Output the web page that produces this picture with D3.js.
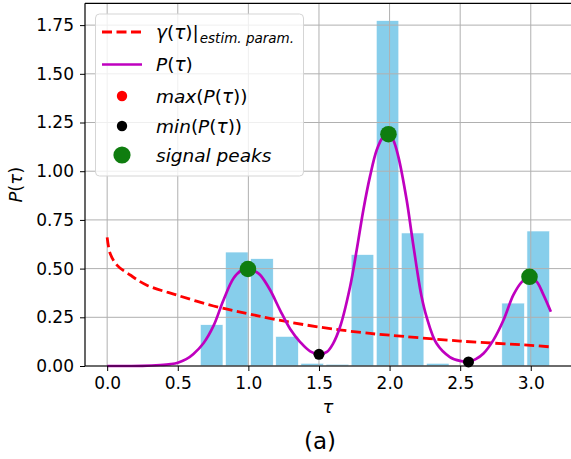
<!DOCTYPE html>
<html>
<head>
<meta charset="utf-8">
<script src="https://cdn.jsdelivr.net/npm/d3@7"></script>
<style>
  body { margin: 0; background: #fff; }
  text { font-family: "DejaVu Sans", sans-serif; }
</style>
</head>
<body>
<div id="chart"></div>
<script>
// histogram bins (tau) and density heights
const binEdges = [0.651, 0.829, 1.007, 1.185, 1.363, 1.541, 1.719, 1.897, 2.074, 2.252, 2.430, 2.608, 2.786, 2.964, 3.142];
const binHeights = [0.212, 0.585, 0.551, 0.152, 0.014, 0.009, 0.572, 1.773, 0.683, 0.014, 0, 0, 0.323, 0.693];

// P(tau) curve
const pTau = [0, 0.25, 0.375, 0.45, 0.5, 0.56, 0.611, 0.682, 0.753, 0.824, 0.895, 0.95, 1.0, 1.05, 1.084, 1.154, 1.225, 1.296, 1.367, 1.438, 1.5, 1.556, 1.6, 1.649, 1.72, 1.767, 1.814, 1.861, 1.909, 1.955, 1.992, 2.026, 2.062, 2.121, 2.156, 2.191, 2.227, 2.262, 2.333, 2.427, 2.50, 2.559, 2.610, 2.665, 2.736, 2.807, 2.877, 2.937, 2.991, 3.043, 3.09, 3.142];
const pVal = [0, 0.001, 0.005, 0.01, 0.017, 0.035, 0.062, 0.117, 0.206, 0.339, 0.45, 0.49, 0.498, 0.485, 0.467, 0.39, 0.286, 0.19, 0.123, 0.075, 0.06, 0.072, 0.115, 0.2, 0.406, 0.595, 0.8, 0.972, 1.109, 1.177, 1.19, 1.16, 1.075, 0.852, 0.68, 0.51, 0.355, 0.252, 0.115, 0.046, 0.026, 0.021, 0.035, 0.064, 0.134, 0.236, 0.365, 0.432, 0.458, 0.432, 0.365, 0.279];

// gamma(tau) with estimated parameters
const gTau = [0.0, 0.021, 0.069, 0.163, 0.281, 0.494, 0.753, 0.989, 1.2, 1.5, 1.862, 2.0, 2.5, 3.0, 3.142];
const gVal = [0.66, 0.578, 0.518, 0.467, 0.415, 0.364, 0.308, 0.27, 0.238, 0.20, 0.167, 0.158, 0.128, 0.106, 0.098];

const minTau = [1.5, 2.559];
const minVal = [0.06, 0.021];
const peakTau = [0.997, 1.992, 2.991];
const peakVal = [0.498, 1.19, 0.458];
const maxTau = [1.992];
const maxVal = [1.19];

const xTicks = [0, 0.5, 1.0, 1.5, 2.0, 2.5, 3.0];
const yTicks = [0, 0.25, 0.5, 0.75, 1.0, 1.25, 1.5, 1.75];

function mathText(sel, str) {
    // letters italic, brackets upright, like mathtext
    const parts = [];
    for (const ch of str) {
        const it = /[A-Za-zτγ ]/.test(ch);
        if (parts.length && parts[parts.length - 1].it === it) parts[parts.length - 1].s += ch;
        else parts.push({ s: ch, it: it });
    }
    parts.forEach(p => {
        sel.append("tspan").attr("font-style", p.it ? "italic" : "normal").text(p.s);
    });
    return sel;
}

function main() {
    const canvasWidth = 571;
    const canvasHeight = 459;

    const svg = d3.select("#chart").append("svg")
        .attr("width", canvasWidth)
        .attr("height", canvasHeight);

    const left = 85, right = 573, top = 3.3, bottom = 366;

    const x = d3.scaleLinear().domain([-0.157, 3.299]).range([left, right]);
    const y = d3.scaleLinear().domain([0, 1.862]).range([bottom, top]);

    // bars (rwidth 0.9)
    const bins = binHeights.map((h, i) => ({ x0: binEdges[i], x1: binEdges[i + 1], h: h }));
    svg.append("g").selectAll("rect")
        .data(bins.filter(d => d.h > 0))
        .join("rect")
        .attr("x", d => x(d.x0 + 0.05 * (d.x1 - d.x0)))
        .attr("width", d => x(d.x1) - x(d.x0) - 0.1 * (x(d.x1) - x(d.x0)))
        .attr("y", d => y(d.h))
        .attr("height", d => y(0) - y(d.h))
        .attr("fill", "#87ceeb")
        .attr("stroke", "#ffffff")
        .attr("stroke-width", 0.6);

    // grid
    const grid = svg.append("g").attr("stroke", "#b0b0b0").attr("stroke-width", 1);
    grid.selectAll(".gx").data(xTicks).join("line")
        .attr("x1", d => x(d)).attr("x2", d => x(d))
        .attr("y1", top).attr("y2", bottom);
    grid.selectAll(".gy").data(yTicks).join("line")
        .attr("x1", left).attr("x2", right)
        .attr("y1", d => y(d)).attr("y2", d => y(d));

    // gamma curve
    const line = d3.line().curve(d3.curveCatmullRom);
    svg.append("path")
        .attr("fill", "none")
        .attr("stroke", "#ff0000")
        .attr("stroke-width", 2.8)
        .attr("stroke-dasharray", "10,4.5")
        .attr("d", line(gTau.map((t, i) => [x(t), y(gVal[i])])));

    // P(tau)
    svg.append("path")
        .attr("fill", "none")
        .attr("stroke", "#bf00bf")
        .attr("stroke-width", 2.7)
        .attr("d", line(pTau.map((t, i) => [x(t), y(pVal[i])])));

    svg.append("g").selectAll("circle").data(maxTau).join("circle")
        .attr("cx", d => x(d)).attr("cy", (d, i) => y(maxVal[i]))
        .attr("r", 5.5).attr("fill", "#ff0000");
    svg.append("g").selectAll("circle").data(minTau).join("circle")
        .attr("cx", d => x(d)).attr("cy", (d, i) => y(minVal[i]))
        .attr("r", 5.5).attr("fill", "#000000");
    svg.append("g").selectAll("circle").data(peakTau).join("circle")
        .attr("cx", d => x(d)).attr("cy", (d, i) => y(peakVal[i]))
        .attr("r", 8.3).attr("fill", "#0f7d0f");

    // axes
    const xAxis = svg.append("g")
        .attr("transform", "translate(0," + bottom + ")")
        .call(d3.axisBottom(x).tickValues(xTicks).tickFormat(d3.format(".1f")).tickSize(5).tickPadding(6).tickSizeOuter(0));
    const yAxis = svg.append("g")
        .attr("transform", "translate(" + left + ",0)")
        .call(d3.axisLeft(y).tickValues(yTicks).tickFormat(d3.format(".2f")).tickSize(5).tickPadding(6).tickSizeOuter(0));
    [xAxis, yAxis].forEach(a => {
        a.selectAll("text").attr("font-size", "17px").attr("fill", "#000").attr("font-family", "DejaVu Sans");
        a.selectAll("line").attr("stroke", "#000");
        a.select(".domain").remove();
    });

    // spines
    svg.append("line").attr("x1", left).attr("x2", left).attr("y1", top).attr("y2", bottom).attr("stroke", "#000").attr("stroke-width", 1.2);
    svg.append("line").attr("x1", left).attr("x2", right).attr("y1", bottom).attr("y2", bottom).attr("stroke", "#000").attr("stroke-width", 1.2);
    svg.append("line").attr("x1", left).attr("x2", right).attr("y1", top).attr("y2", top).attr("stroke", "#000").attr("stroke-width", 1.2);

    // axis labels
    mathText(svg.append("text")
        .attr("x", 328).attr("y", 413)
        .attr("text-anchor", "middle").attr("font-size", "18px"), "τ");
    mathText(svg.append("text")
        .attr("transform", "translate(22," + ((top + bottom) / 2) + ") rotate(-90)")
        .attr("text-anchor", "middle").attr("font-size", "18px"), "P(τ)");
    svg.append("text")
        .attr("x", 320).attr("y", 449)
        .attr("text-anchor", "middle")
        .attr("font-family", "Liberation Serif")
        .attr("font-size", "23px")
        .text("(a)");

    // legend
    const lg = svg.append("g");
    lg.append("rect")
        .attr("x", 95.5).attr("y", 14).attr("width", 208).attr("height", 162)
        .attr("rx", 4)
        .attr("fill", "#ffffff").attr("fill-opacity", 0.8)
        .attr("stroke", "#d5d5d5");
    const rows = [32, 64.5, 96, 126, 155];
    lg.append("line").attr("x1", 102).attr("x2", 142).attr("y1", rows[0]).attr("y2", rows[0])
        .attr("stroke", "#ff0000").attr("stroke-width", 2.8).attr("stroke-dasharray", "10,4.5");
    lg.append("line").attr("x1", 102).attr("x2", 142).attr("y1", rows[1]).attr("y2", rows[1])
        .attr("stroke", "#bf00bf").attr("stroke-width", 2.7);
    lg.append("circle").attr("cx", 122).attr("cy", rows[2]).attr("r", 5.2).attr("fill", "#ff0000");
    lg.append("circle").attr("cx", 122).attr("cy", rows[3]).attr("r", 5.2).attr("fill", "#000000");
    lg.append("circle").attr("cx", 122).attr("cy", rows[4]).attr("r", 8.6).attr("fill", "#0f7d0f");

    const labels = ["γ(τ)|", "P(τ)", "max(P(τ))", "min(P(τ))", "signal peaks"];
    labels.forEach((l, i) => {
        const t = mathText(lg.append("text")
            .attr("x", 156).attr("y", rows[i] + 6.5)
            .attr("font-size", "18.5px"), l);
        if (i === 0) {
            t.append("tspan").attr("font-style", "italic").attr("font-size", "13.5px")
                .attr("dy", 4).attr("dx", 1).text("estim. param.");
        }
    });
}
main();
</script>
</body>
</html>
